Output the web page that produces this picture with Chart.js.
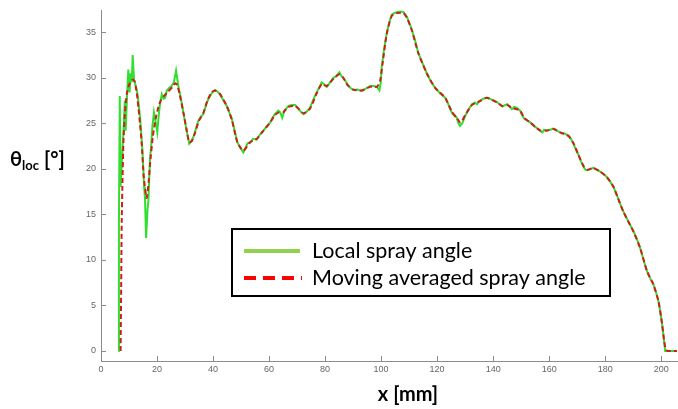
<!DOCTYPE html>
<html>
<head>
<meta charset="utf-8">
<script src="https://cdn.jsdelivr.net/npm/chart.js@4/dist/chart.umd.min.js"></script>
<style>
html,body{margin:0;padding:0;background:#fff;}
#wrap{width:678px;height:409px;position:relative;}
</style>
</head>
<body>
<div id="wrap"><canvas id="c" width="678" height="409"></canvas></div>
<script>
// ---- data ----
const localX = [6.2,6.4,6.7,7.0,7.5,8.0,8.5,8.8,9.3,9.75,10.2,10.6,11.0,11.3,11.8,12.4,13.0,14.0,14.8,15.4,15.7,16.1,16.6,16.9,17.5,17.9,18.3,18.9,19.3,20.1,20.5,21.0,21.7,22.3,22.9,23.5,24.4,25.2,26.0,26.8,27.6,28.5,29.4,30.5,31.5,32.2,33.0,34.0,34.75,35.6,36.5,37.5,38.3,39.5,40.7,41.5,42.5,43.7,44.9,45.8,46.7,47.7,48.7,49.8,50.8,51.5,52.3,53.2,54.3,55.6,56.8,58.0,59.2,60.4,61.2,62.1,63.3,64.0,64.7,65.5,66.9,68.0,69.3,70.5,71.5,72.3,73.5,74.6,75.8,77.0,78.0,78.8,79.6,80.6,81.8,83.0,84.0,85.1,85.8,86.5,88.0,89.0,90.1,91.5,93.1,94.5,96.1,97.5,98.5,99.4,99.9,100.2,101.0,102.0,103.0,103.8,104.7,105.6,107.0,108.0,109.2,110.1,111.0,112.2,113.3,114.8,116.3,117.8,119.3,121.0,122.9,124.0,125.2,126.2,127.0,127.6,128.2,129.0,130.0,131.2,132.4,133.5,134.2,135.1,136.5,137.7,138.9,140.0,141.3,142.3,143.3,144.2,145.1,145.9,146.7,147.6,148.5,149.6,150.3,151.1,152.2,153.2,154.1,155.0,156.0,157.0,157.6,158.2,159.2,160.3,161.5,162.7,163.9,165.4,166.9,167.8,168.7,169.6,170.5,171.4,172.3,173.0,173.7,174.7,175.8,177.0,178.2,179.4,180.6,181.8,183.0,184.2,185.3,186.5,188.3,190.1,191.3,192.5,193.7,194.9,196.0,197.2,198.1,199.0,199.7,200.3,200.9,201.4,205.6];
const localY = [0,14,28,18,21,24,27.5,24.2,28,30.9,28.4,30.5,29.5,32.5,29.8,29.1,28.3,25.5,22,18,16.8,12.4,15.5,16.4,21.1,22.5,24.5,26.2,25.5,24.0,25.5,27,28.2,27.7,27.8,28.6,28.9,29.1,29.5,30.8,29.1,27.8,26.2,24.3,22.75,23.0,23.5,24.5,25.3,25.7,26.0,27.0,27.65,28.3,28.65,28.5,28.2,27.5,26.9,26.2,25.5,24.2,22.9,22.3,21.8,22.2,22.8,22.9,23.3,23.2,23.8,24.2,24.7,25.1,25.6,26.0,26.4,26.2,25.6,26.4,26.9,27.0,27.0,26.6,26.2,26.0,26.3,26.7,27.6,28.4,29.0,29.5,29.3,29.0,29.5,30.0,30.2,30.6,30.2,30.0,29.3,28.9,28.65,28.7,28.55,28.8,29.1,29.1,29.0,28.6,29.5,31.1,33.0,34.9,36.2,36.9,37.1,37.2,37.3,37.2,36.7,36.0,35.25,34.0,32.7,31.6,30.5,29.6,28.9,28.3,27.8,27.1,26.2,25.8,25.65,25.0,24.7,25.0,25.8,26.5,27.1,27.3,27.1,27.45,27.7,27.8,27.7,27.5,27.35,27.1,26.85,27.0,27.1,26.8,26.55,26.8,26.7,26.4,25.9,25.5,25.3,25.1,24.9,24.6,24.4,24.1,24.0,24.3,24.2,24.3,24.4,24.2,24.0,23.9,23.65,23.3,22.75,22.1,21.5,20.8,20.2,19.9,19.85,20.0,20.1,19.9,19.7,19.4,19.1,18.6,18.0,17.1,16.2,15.3,14.2,13.15,12.3,11.3,10.0,8.8,8.0,7.35,6.5,5.5,4.3,3.0,1.5,0,0];

const avgX = [7.0,7.2,7.4,7.7,8.0,8.5,9.2,10.0,11.3,12.0,12.75,13.6,14.5,15.3,16.3,17.0,17.5,18.5,19.5,20.5,21.5,22.5,24.0,25.5,26.5,27.2,28.0,29.4,30.5,31.5,32.5,33.5,35.0,36.5,38.0,39.5,40.7,42.5,44.9,46.7,48.7,50.8,53.2,55.6,58.0,60.4,62.1,63.5,65.0,66.9,69.3,70.5,72.3,74.6,77.0,78.8,80.6,83.0,85.1,86.5,88.0,90.1,93.1,96.1,98.5,99.6,100.5,102.0,103.8,105.6,108.0,109.2,111.0,113.3,116.3,119.3,122.9,125.2,127.0,128.2,129.0,130.0,132.4,135.1,137.7,141.3,143.3,145.1,146.7,149.6,151.1,153.2,155.0,157.0,159.2,161.5,163.9,166.9,168.7,170.5,172.3,173.7,175.8,178.2,180.6,183.0,184.8,186.5,190.1,192.5,194.9,197.2,199.0,200.3,201.0,201.6,202.3,205.6];
const avgY = [0,7,14.2,19,22.9,26,28.2,29.2,29.8,29.6,28.4,26,22.9,19,16.8,18.5,20.5,23.5,25.5,26.8,27.6,28.0,28.5,29.0,29.4,29.2,28.3,26.2,24.4,22.9,23.1,23.9,25.3,26.1,27.5,28.4,28.6,28.2,26.9,25.4,22.9,22.0,22.9,23.3,24.2,25.1,25.9,26.2,26.2,26.8,26.9,26.6,26.1,26.6,28.3,29.3,29.1,29.9,30.4,30.0,29.2,28.7,28.6,29.0,29.0,29.6,31.5,34.8,36.8,37.1,37.1,36.6,35.2,32.7,30.5,28.9,27.8,26.3,25.6,25.1,25.3,25.9,27.0,27.4,27.8,27.3,26.9,27.0,26.7,26.4,25.6,25.1,24.6,24.2,24.2,24.4,24.0,23.6,22.8,21.5,20.3,19.9,20.1,19.7,19.1,18.0,16.6,15.3,13.1,11.3,8.8,7.3,5.5,3.0,1.2,0.2,0,0];

const seriesNames = ['Local spray angle', 'Moving averaged spray angle'];
const xTicks = [0,20,40,60,80,100,120,140,160,180,200];
const yTicks = [0,5,10,15,20,25,30,35];

const toPts = (xs, ys) => xs.map((x, i) => ({x: x, y: ys[i]}));

const AXIS_GRAY = '#8c8c8c';
const TICK_FONT = {family: 'Liberation Sans', size: 9};

const decor = {
  id: 'decor',
  afterDatasetsDraw(chart) {
    const ctx = chart.ctx;
    const xs = chart.scales.x, ys = chart.scales.y;
    const a = chart.chartArea;
    ctx.save();
    // inward ticks
    ctx.strokeStyle = AXIS_GRAY;
    ctx.lineWidth = 1;
    ctx.beginPath();
    xTicks.forEach(v => { const p = Math.round(xs.getPixelForValue(v)) + 0.5; ctx.moveTo(p, a.bottom); ctx.lineTo(p, a.bottom - 5); });
    yTicks.forEach(v => { const p = Math.round(ys.getPixelForValue(v)) + 0.5; ctx.moveTo(a.left, p); ctx.lineTo(a.left + 5, p); });
    ctx.stroke();

    // legend box
    const bx = 232, by = 229, bw = 378, bh = 67;
    ctx.fillStyle = '#fff';
    ctx.fillRect(bx, by, bw, bh);
    ctx.strokeStyle = '#000';
    ctx.lineWidth = 2;
    ctx.strokeRect(bx, by, bw, bh);
    ctx.lineWidth = 4;
    ctx.strokeStyle = '#92d050';
    ctx.beginPath(); ctx.moveTo(244, 251); ctx.lineTo(300, 251); ctx.stroke();
    ctx.strokeStyle = '#ff0000';
    ctx.setLineDash([12, 7]);
    ctx.beginPath(); ctx.moveTo(244, 278); ctx.lineTo(302, 278); ctx.stroke();
    ctx.setLineDash([]);
    ctx.fillStyle = '#000';
    ctx.font = '21.5px Lato';
    ctx.textBaseline = 'middle';
    ctx.textAlign = 'left';
    ctx.fillText(seriesNames[0], 312, 251);
    ctx.fillText(seriesNames[1], 312, 278);

    // axis titles
    ctx.font = 'bold 20px Lato';
    ctx.textAlign = 'center';
    ctx.fillText('x [mm]', 408, 395);
    // y title with subscript
    ctx.textAlign = 'left';
    let x0 = 10;
    ctx.font = 'bold 20px Lato';
    ctx.fillText('θ', x0, 160);
    x0 += ctx.measureText('θ').width;
    ctx.font = 'bold 13px Lato';
    ctx.fillText('loc', x0, 166);
    x0 += ctx.measureText('loc').width;
    ctx.font = 'bold 20px Lato';
    ctx.fillText(' [°]', x0, 160);
    ctx.restore();
  }
};

new Chart(document.getElementById('c'), {
  type: 'line',
  data: {
    datasets: [
      {
        label: seriesNames[1],
        data: toPts(avgX, avgY),
        borderColor: '#d21c1c',
        borderWidth: 2,
        borderDash: [5, 3],
        pointRadius: 0,
        tension: 0.2,
        order: 0
      },
      {
        label: seriesNames[0],
        data: toPts(localX, localY),
        borderColor: '#2fe02f',
        borderWidth: 2,
        pointRadius: 0,
        tension: 0,
        order: 1
      }
    ]
  },
  options: {
    responsive: false,
    animation: false,
    parsing: true,
    layout: {padding: {top: 7, right: 0, left: 0, bottom: 0}},
    plugins: {legend: {display: false}, tooltip: {enabled: false}},
    scales: {
      x: {
        type: 'linear',
        min: 0, max: 206,
        afterBuildTicks: s => { s.ticks = xTicks.map(v => ({value: v})); },
        afterFit: s => { s.height = 48; },
        ticks: {font: TICK_FONT, color: '#666', padding: 3, maxRotation: 0, autoSkip: false},
        grid: {display: false, drawTicks: false},
        border: {display: true, color: AXIS_GRAY, width: 1}
      },
      y: {
        type: 'linear',
        min: -1.1, max: 37.4,
        afterBuildTicks: s => { s.ticks = yTicks.map(v => ({value: v})); },
        afterFit: s => { s.width = 101; },
        ticks: {font: TICK_FONT, color: '#666', padding: 5, autoSkip: false},
        grid: {display: false, drawTicks: false},
        border: {display: true, color: AXIS_GRAY, width: 1}
      }
    }
  },
  plugins: [decor]
});
</script>
</body>
</html>
